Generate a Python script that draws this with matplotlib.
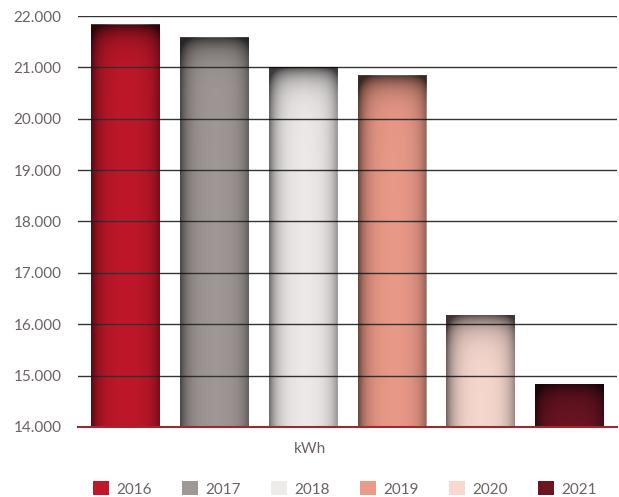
import numpy as np
import matplotlib.pyplot as plt
from matplotlib.patches import Patch
from matplotlib.ticker import FuncFormatter

years = ['2016', '2017', '2018', '2019', '2020', '2021']
kwh = [21825, 21575, 20995, 20835, 16175, 14830]
colors = ['#c0172a', '#a09896', '#efebea', '#eb9a88', '#f8d9d0', '#6d1423']

plt.rcParams['font.family'] = ['Lato', 'DejaVu Sans']
text_col = '#6b6361'

fig = plt.figure(figsize=(6.19, 4.97), dpi=100)
ax = fig.add_axes([78 / 619, 1 - 427 / 497, 539 / 619, 411 / 497])

x = np.arange(len(years))
width = 0.775
bars = ax.bar(x, kwh, width, color=colors, zorder=2)

# inner shadow on each bar: dark at left/right edges and top
ny, nx = 200, 100
u = np.linspace(0, 1, nx)
v = np.linspace(0, 1, ny)
for b in bars:
    x0, w = b.get_x(), b.get_width()
    h = b.get_height() - 14000
    top_px = h / 8000 * 411
    side = np.exp(-u / 0.12) + np.exp(-(1 - u) / 0.12) * 0.7
    vv = v * top_px
    topfade = np.exp(-vv / 12.0)
    a = np.clip(side[None, :] * 0.55 + topfade[:, None] * 0.6, 0, 0.75)
    img = np.zeros((ny, nx, 4))
    img[..., 3] = a
    ax.imshow(img, extent=(x0, x0 + w, 14000, b.get_height()), aspect='auto',
              zorder=3, interpolation='bilinear', origin='upper')

ax.set_xlim(-0.53, 5.53)
ax.set_ylim(14000, 22000)
ax.set_yticks(np.arange(14000, 22001, 1000))
ax.yaxis.set_major_formatter(FuncFormatter(lambda v, p: f'{int(v):,}'.replace(',', '.')))
ax.grid(axis='y', color='#333333', linewidth=1, zorder=4)
ax.set_axisbelow(False)
ax.set_xticks([])
for s in ['top', 'right', 'left']:
    ax.spines[s].set_visible(False)
ax.spines['bottom'].set_color('#9b2a35')
ax.spines['bottom'].set_linewidth(1.5)
ax.spines['bottom'].set_zorder(5)
ax.tick_params(axis='y', length=0, pad=12, labelsize=11, labelcolor=text_col)

fig.text(310 / 619, 1 - 449 / 497, 'kWh', ha='center', va='center',
         fontsize=11, color=text_col)

handles = [Patch(facecolor=c, edgecolor='none') for c in colors]
fig.legend(handles, years, loc='center', bbox_to_anchor=(345 / 619, 1 - 489 / 497),
           ncol=6, frameon=False, fontsize=11, labelcolor=text_col,
           handlelength=1.0, handleheight=1.0, handletextpad=0.5, columnspacing=2.0)

fig.savefig('out.png', dpi=100)
